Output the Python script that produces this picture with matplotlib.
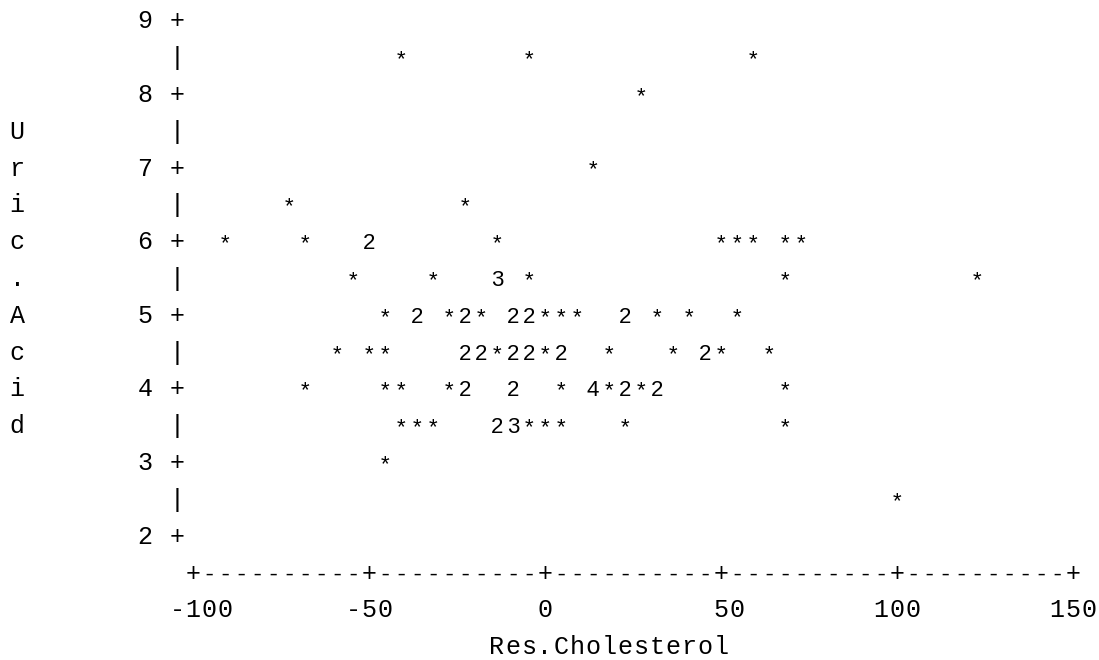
import matplotlib.pyplot as plt
from matplotlib import transforms
import numpy as np

# values; n_obs = points sharing a cell ('*' = 1)
res_chol = [-40.9, -4.5, 59.1,
            27.3,
            13.6,
            -72.7, -22.7,
            -90.9, -68.2, -50.0, -13.6, 50.0, 54.5, 59.1, 68.2, 72.7,
            -54.5, -31.8, -13.6, -4.5, 68.2, 122.7,
            -45.5, -36.4, -27.3, -22.7, -18.2, -9.1, -4.5, 0.0, 4.5, 9.1, 22.7, 31.8, 40.9, 54.5,
            -59.1, -50.0, -45.5, -22.7, -18.2, -13.6, -9.1, -4.5, 0.0, 4.5, 18.2, 36.4, 45.5, 50.0, 63.6,
            -68.2, -45.5, -40.9, -27.3, -22.7, -9.1, 4.5, 13.6, 18.2, 22.7, 27.3, 31.8, 68.2,
            -40.9, -36.4, -31.8, -13.6, -9.1, -4.5, 0.0, 4.5, 22.7, 68.2,
            -45.5,
            100.0]
uric_acid = [8.5] * 3 + [8.0] + [7.0] + [6.5] * 2 + [6.0] * 9 + [5.5] * 6 + \
            [5.0] * 14 + [4.5] * 15 + [4.0] * 13 + [3.5] * 10 + [3.0] + [2.5]
n_obs = [1, 1, 1,
         1,
         1,
         1, 1,
         1, 1, 2, 1, 1, 1, 1, 1, 1,
         1, 1, 3, 1, 1, 1,
         1, 2, 1, 2, 1, 2, 2, 1, 1, 1, 2, 1, 1, 1,
         1, 1, 1, 2, 2, 1, 2, 2, 1, 2, 1, 1, 2, 1, 1,
         1, 1, 1, 1, 2, 2, 1, 4, 1, 2, 1, 2, 1,
         1, 1, 1, 2, 3, 1, 1, 1, 1, 1,
         1,
         1]

x_ticks = [-100, -50, 0, 50, 100, 150]
y_ticks = [2, 3, 4, 5, 6, 7, 8, 9]
x_label = 'Res.Cholesterol'
y_label = 'Uric.Acid'

MONO = 'Liberation Mono'
SANS = 'Liberation Sans'

fig = plt.figure(figsize=(10.99, 6.6), dpi=100)
ax = fig.add_axes([0, 0, 1, 1])
ax.set_xlim(-154.83, 157.39)
ax.set_ylim(0.318, 9.285)
ax.axis('off')

# text sits on its baseline, a bit below the row centre
base = transforms.offset_copy(ax.transData, fig=fig, x=0, y=-7.5, units='dots')

# one character cell = 1/11 of a tick interval
x_step = (x_ticks[1] - x_ticks[0]) / 11.0


def col_x(c):
    return x_ticks[0] + (c - 11) * x_step


def put(col, u, s, family, size):
    for i, ch in enumerate(s):
        if ch != ' ':
            ax.text(col_x(col + i), u, ch, transform=base, ha='center',
                    va='baseline', family=family, fontsize=size, color='black')


# points
for x, y, n in zip(res_chol, uric_acid, n_obs):
    sym = '*' if n == 1 else str(n)
    ax.text(x, y, sym, transform=base, ha='center', va='baseline',
            family=SANS, fontsize=16, color='black')

# vertical axis
for t in y_ticks:
    put(8, t, str(t), MONO, 18)
    put(10, t, '+', MONO, 18)
for t in y_ticks[:-1]:
    put(10, t + 0.5, '|', SANS, 19)

# y label written down the left side
for i, ch in enumerate(y_label):
    put(0, 7.5 - 0.5 * i, ch, MONO, 18)

# horizontal axis
for i in range(56):
    put(11 + i, 1.5, '+' if i % 11 == 0 else '-', MONO, 18 if i % 11 == 0 else 16)
for k, t in enumerate(x_ticks):
    lab = str(t)
    put(11 + 11 * k - (len(lab) - 1) // 2, 1.0, lab, MONO, 18)

put(30, 0.5, x_label, MONO, 18)

fig.savefig('out.png', dpi=100, facecolor='white')
